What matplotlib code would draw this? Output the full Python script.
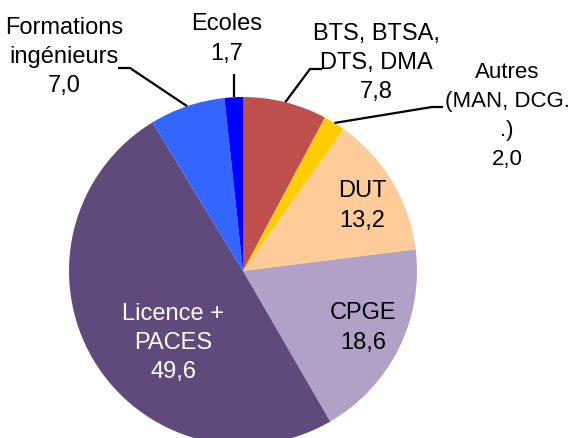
import numpy as np
import matplotlib.pyplot as plt

# valeurs du camembert (%), dans l'ordre horaire depuis le haut
labels = ["BTS, BTSA,\nDTS, DMA", "Autres\n(MAN, DCG.\n.)", "DUT", "CPGE",
          "Licence +\nPACES", "Formations\ningénieurs", "Ecoles"]
values = [7.8, 2.0, 13.2, 18.6, 49.6, 7.0, 1.7]
colors = ["#C0504D", "#FFCC00", "#FFCC99", "#B2A1C7", "#5F4A7B", "#3366FF", "#0000FF"]
text_colors = ["black", "black", "black", "black", "white", "black", "black"]

W, H = 568, 439
cx, cy, r = 243, H - 272, 174

plt.rcParams["font.family"] = ["Liberation Sans", "DejaVu Sans"]

fig = plt.figure(figsize=(W / 100, H / 100), dpi=100)
ax = fig.add_axes([0, 0, 1, 1])

wedges, _ = ax.pie(values, colors=colors, startangle=90, counterclock=False,
                   center=(cx, cy), radius=r, frame=True)
ax.set_xlim(0, W)
ax.set_ylim(0, H)
ax.set_aspect("equal")
ax.axis("off")

def label_text(i):
    return labels[i] + "\n" + f"{values[i]:.1f}".replace(".", ",")

# positions des étiquettes (centre du bloc de texte, en pixels depuis le haut)
# et coude de la ligne de rappel (None = étiquette dans la part)
label_pos = {
    0: ((376, 63), [(322, 70), (310, 70)]),
    1: ((507, 116), [(443, 108), (432, 108)]),
    2: ((362, 206), None),
    3: ((363, 328), None),
    4: ((173, 343), None),
    5: ((64, 57), [(118, 69), (130, 69)]),
    6: ((227, 39), [(233, 75)]),
}

for i, w in enumerate(wedges):
    (tx, ty), elbow = label_pos[i]
    size = 16 if i == 1 else 17
    ax.text(tx, H - ty, label_text(i), ha="center", va="center",
            fontsize=size, color=text_colors[i], linespacing=1.5 if i == 1 else 1.42)
    if elbow is not None:
        mid = np.deg2rad((w.theta1 + w.theta2) / 2)
        ex, ey = cx + r * np.cos(mid), cy + r * np.sin(mid)
        xs = [p[0] for p in elbow] + [ex]
        ys = [H - p[1] for p in elbow] + [ey]
        if i == 6:
            xs = [ex, ex]
            ys = [H - elbow[0][1], ey]
        ax.plot(xs, ys, color="black", lw=1.6, solid_capstyle="butt")

fig.savefig("out.png", dpi=100)
